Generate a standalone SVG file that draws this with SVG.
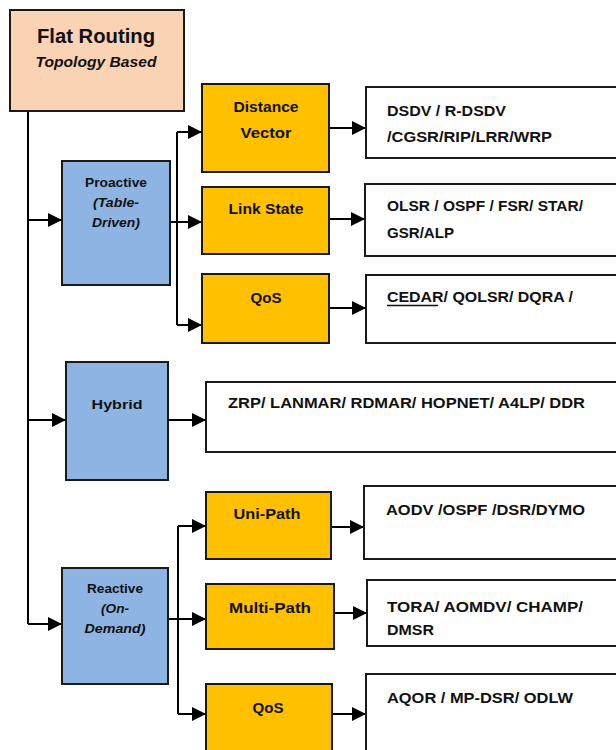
<svg xmlns="http://www.w3.org/2000/svg" width="616" height="750" viewBox="0 0 616 750">
<defs>
<marker id="ah" viewBox="0 0 14 14" refX="14" refY="7" markerWidth="14" markerHeight="14" markerUnits="userSpaceOnUse" orient="auto">
<path d="M0,0 L14,7 L0,14 z" fill="#000"/>
</marker>
</defs>
<style>
.box{stroke:#1a1a1a;stroke-width:2}
.root{fill:#FAD3B4}
.blue{fill:#8EB4E3}
.orange{fill:#FFC000}
.res{fill:#fff}
text{font-family:"Liberation Sans",Arial,sans-serif;font-weight:bold;fill:#111}
.c{text-anchor:middle}
.it{font-style:italic}
.lbl{font-size:15px}
.sm{font-size:13.5px}
.r{font-size:15px}
.con{fill:none;stroke:#000;stroke-width:2}
.arr{fill:none;stroke:#000;stroke-width:2;marker-end:url(#ah)}
</style>
<g id="connectors">
<path class="con" d="M28,111 V624"/>
<path class="arr" d="M28,220 H62"/>
<path class="arr" d="M28,420 H66"/>
<path class="arr" d="M28,624 H62"/>
<path class="con" d="M170,222 H177 M177,132 V325"/>
<path class="arr" d="M177,132 H202"/>
<path class="arr" d="M177,222 H202"/>
<path class="arr" d="M177,325 H202"/>
<path class="arr" d="M329,128 H366"/>
<path class="arr" d="M329,219 H365"/>
<path class="arr" d="M329,308 H366"/>
<path class="arr" d="M168,420 H206"/>
<path class="con" d="M168,619 H178 M178,526 V714"/>
<path class="arr" d="M178,526 H206"/>
<path class="arr" d="M178,619 H206"/>
<path class="arr" d="M178,714 H206"/>
<path class="arr" d="M331,527 H364"/>
<path class="arr" d="M334,613 H367"/>
<path class="arr" d="M332,714 H366"/>
</g>
<g id="root">
<rect class="box root" x="10" y="10" width="174" height="101"/>
<text class="c" x="96" y="43" font-size="20" textLength="118" lengthAdjust="spacingAndGlyphs">Flat Routing</text>
<text class="c it" x="96" y="67" font-size="15" textLength="121" lengthAdjust="spacingAndGlyphs">Topology Based</text>
</g>
<g id="proactive">
<rect class="box blue" x="62" y="161" width="108" height="124"/>
<text class="c sm" x="116" y="187" textLength="62" lengthAdjust="spacingAndGlyphs">Proactive</text>
<text class="c sm it" x="116" y="207" textLength="46" lengthAdjust="spacingAndGlyphs">(Table-</text>
<text class="c sm it" x="116" y="227" textLength="48" lengthAdjust="spacingAndGlyphs">Driven)</text>
</g>
<g id="hybrid">
<rect class="box blue" x="66" y="362" width="102" height="118"/>
<text class="c sm" x="117" y="409" textLength="51" lengthAdjust="spacingAndGlyphs">Hybrid</text>
</g>
<g id="reactive">
<rect class="box blue" x="62" y="568" width="106" height="116"/>
<text class="c sm" x="115" y="593" textLength="56" lengthAdjust="spacingAndGlyphs">Reactive</text>
<text class="c sm it" x="115" y="613" textLength="28" lengthAdjust="spacingAndGlyphs">(On-</text>
<text class="c sm it" x="115" y="633" textLength="61" lengthAdjust="spacingAndGlyphs">Demand)</text>
</g>
<g id="distance-vector">
<rect class="box orange" x="202" y="84" width="127" height="88"/>
<text class="c lbl" x="266" y="112" textLength="65" lengthAdjust="spacingAndGlyphs">Distance</text>
<text class="c lbl" x="266" y="138" textLength="51" lengthAdjust="spacingAndGlyphs">Vector</text>
</g>
<g id="link-state">
<rect class="box orange" x="202" y="187" width="127" height="67"/>
<text class="c lbl" x="266" y="214" textLength="75" lengthAdjust="spacingAndGlyphs">Link State</text>
</g>
<g id="qos-proactive">
<rect class="box orange" x="202" y="274" width="127" height="69"/>
<text class="c lbl" x="266" y="303" textLength="31" lengthAdjust="spacingAndGlyphs">QoS</text>
</g>
<g id="uni-path">
<rect class="box orange" x="206" y="492" width="125" height="67"/>
<text class="c lbl" x="267" y="519" textLength="67" lengthAdjust="spacingAndGlyphs">Uni-Path</text>
</g>
<g id="multi-path">
<rect class="box orange" x="206" y="584" width="128" height="65"/>
<text class="c lbl" x="270" y="613" textLength="82" lengthAdjust="spacingAndGlyphs">Multi-Path</text>
</g>
<g id="qos-reactive">
<rect class="box orange" x="206" y="684" width="126" height="70"/>
<text class="c lbl" x="268" y="713" textLength="31" lengthAdjust="spacingAndGlyphs">QoS</text>
</g>
<g id="dv-protocols">
<rect class="box res" x="366" y="87" width="256" height="71"/>
<text class="r" x="387" y="116" textLength="119" lengthAdjust="spacingAndGlyphs">DSDV / R-DSDV</text>
<text class="r" x="387" y="142" textLength="165" lengthAdjust="spacingAndGlyphs">/CGSR/RIP/LRR/WRP</text>
</g>
<g id="ls-protocols">
<rect class="box res" x="365" y="184" width="256" height="72"/>
<text class="r" x="387" y="211" textLength="196" lengthAdjust="spacingAndGlyphs">OLSR / OSPF / FSR/ STAR/</text>
<text class="r" x="387" y="238" textLength="67" lengthAdjust="spacingAndGlyphs">GSR/ALP</text>
</g>
<g id="qos-p-protocols">
<rect class="box res" x="366" y="275" width="256" height="68"/>
<text class="r" x="387" y="302" textLength="186" lengthAdjust="spacingAndGlyphs">CEDAR/ QOLSR/ DQRA /</text>
<line x1="387" y1="305.5" x2="438" y2="305.5" stroke="#111" stroke-width="1.5"/>
</g>
<g id="hybrid-protocols">
<rect class="box res" x="206" y="382" width="416" height="70"/>
<text class="r" x="228" y="408" textLength="357" lengthAdjust="spacingAndGlyphs">ZRP/ LANMAR/ RDMAR/ HOPNET/ A4LP/ DDR</text>
</g>
<g id="uni-protocols">
<rect class="box res" x="364" y="486" width="258" height="73"/>
<text class="r" x="386" y="515" textLength="199" lengthAdjust="spacingAndGlyphs">AODV /OSPF /DSR/DYMO</text>
</g>
<g id="multi-protocols">
<rect class="box res" x="367" y="580" width="255" height="66"/>
<text class="r" x="387" y="612" textLength="196" lengthAdjust="spacingAndGlyphs">TORA/ AOMDV/ CHAMP/</text>
<text class="r" x="387" y="635" textLength="47" lengthAdjust="spacingAndGlyphs">DMSR</text>
</g>
<g id="qos-r-protocols">
<rect class="box res" x="366" y="674" width="256" height="80"/>
<text class="r" x="387" y="703" textLength="186" lengthAdjust="spacingAndGlyphs">AQOR / MP-DSR/ ODLW</text>
</g>
</svg>
